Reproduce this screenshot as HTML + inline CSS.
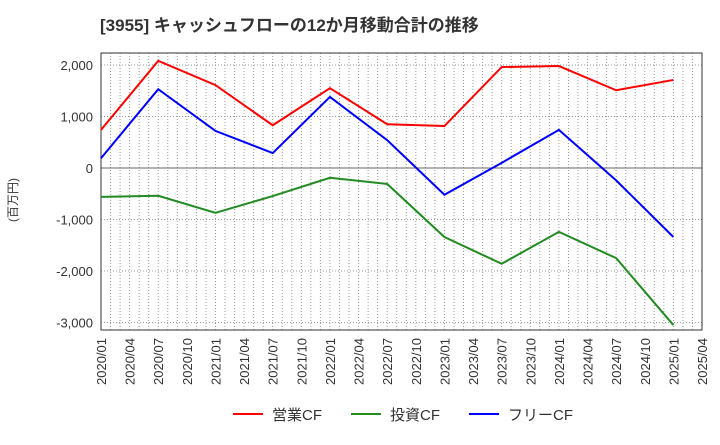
<!DOCTYPE html>
<html><head><meta charset="utf-8"><style>
body{margin:0;background:#fff;font-family:"Liberation Sans","Noto Sans CJK JP",sans-serif;}
</style></head><body>
<svg id="c" width="720" height="440" xmlns="http://www.w3.org/2000/svg" font-family="Liberation Sans, Noto Sans CJK JP, sans-serif">
<text x="100" y="31" font-size="17" font-weight="bold" fill="#333">[3955]  キャッシュフローの12か月移動合計の推移</text>
<text transform="translate(17,200) rotate(-90)" font-size="12" fill="#333" text-anchor="middle">(百万円)</text>
<g id="grid"></g><g id="axes"></g><g id="series"></g>
<g>
<line x1="233" y1="414" x2="263" y2="414" stroke="#f00" stroke-width="2"/><text x="272" y="420" font-size="15" fill="#333">営業CF</text>
<line x1="351" y1="414" x2="381" y2="414" stroke="#228b22" stroke-width="2"/><text x="390" y="420" font-size="15" fill="#333">投資CF</text>
<line x1="469" y1="414" x2="499" y2="414" stroke="#00f" stroke-width="2"/><text x="508" y="420" font-size="15" fill="#333">フリーCF</text>
</g>
</svg>
<script>
const categories=["2020/01","2020/07","2021/01","2021/07","2022/01","2022/07","2023/01","2023/07","2024/01","2024/07","2025/01"];
const operatingCF=[740,2080,1610,830,1550,850,815,1960,1980,1510,1710];
const investingCF=[-560,-540,-870,-545,-190,-310,-1340,-1860,-1240,-1750,-3050];
const freeCF=[190,1530,720,290,1380,540,-520,100,740,-240,-1340];
const yTicks=[2000,1000,0,-1000,-2000,-3000];
const xTickLabels=["2020/01","2020/04","2020/07","2020/10","2021/01","2021/04","2021/07","2021/10","2022/01","2022/04","2022/07","2022/10","2023/01","2023/04","2023/07","2023/10","2024/01","2024/04","2024/07","2024/10","2025/01","2025/04"];
const NS="http://www.w3.org/2000/svg";
const L=101,R=702,T=53,B=330;
const monthsTotal=63;
function mIdx(s){const [y,m]=s.split("/").map(Number);return (y-2020)*12+(m-1);}
function xs(s){return L+(R-L)*mIdx(s)/monthsTotal;}
function ys(v){return 168-v*51.5/1000;}
function mk(p,tag,a){const e=document.createElementNS(NS,tag);for(const k in a)e.setAttribute(k,a[k]);p.appendChild(e);return e;}
const grid=document.getElementById("grid"),axes=document.getElementById("axes"),ser=document.getElementById("series");
for(let m=1;m<monthsTotal;m++){const x=L+(R-L)*m/monthsTotal;const l=mk(grid,"line",{x1:x,y1:T,x2:x,y2:B,stroke:"#999","stroke-dasharray":"1,2","stroke-width":1});

}
yTicks.forEach(v=>{const y=ys(v);const l=mk(grid,"line",{x1:L,y1:y,x2:R,y2:y,stroke:v===0?"#666":"#999","stroke-dasharray":v===0?"none":"1,2","stroke-width":1});


const t=mk(axes,"text",{x:L-8,y:y+5,"font-size":13,fill:"#333","text-anchor":"end"});t.textContent=v.toLocaleString("en-US");

});
const fr=mk(axes,"rect",{x:L,y:T,width:R-L,height:B-T,fill:"none",stroke:"#333","stroke-width":1});


xTickLabels.forEach(s=>{const x=xs(s);const t=mk(axes,"text",{transform:`translate(${x+5},${B+8}) rotate(-90)`,"font-size":13,fill:"#333","text-anchor":"end"});t.textContent=s;

});
[[operatingCF,"#f00","operating-cf-line"],[investingCF,"#228b22","investing-cf-line"],[freeCF,"#00f","free-cf-line"]].forEach(([d,c,n])=>{
const pts=d.map((v,i)=>xs(categories[i])+","+ys(v)).join(" ");
const p=mk(ser,"polyline",{points:pts,fill:"none",stroke:c,"stroke-width":2});

});
</script>
</body></html>
